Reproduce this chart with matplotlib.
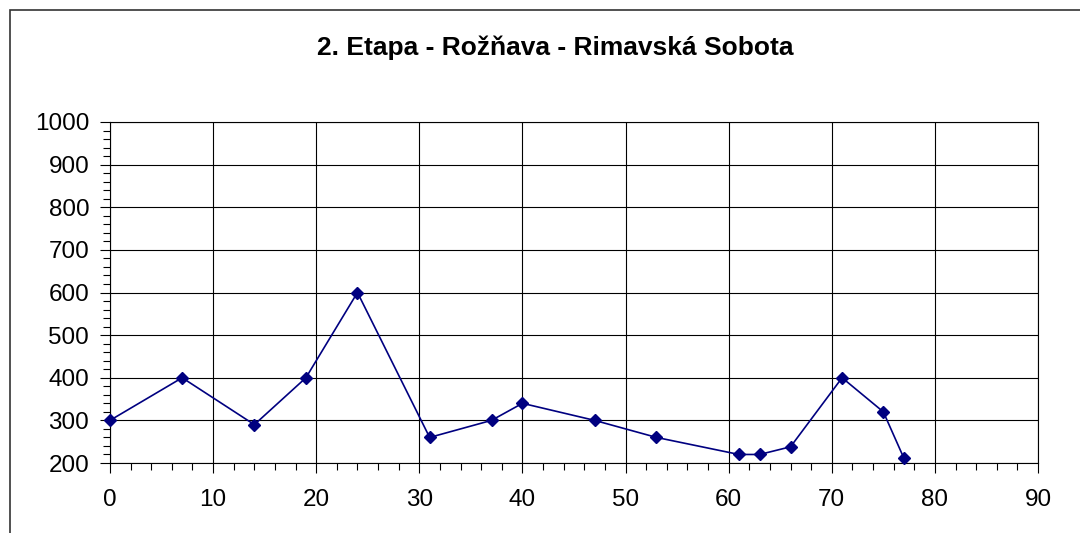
import matplotlib
matplotlib.use("Agg")
import matplotlib.pyplot as plt
from matplotlib.patches import Rectangle
from matplotlib.ticker import MultipleLocator

# trasa - km a nadmorska vyska
km = [0, 7, 14, 19, 24, 31, 37, 40, 47, 53, 61, 63, 66, 71, 75, 77]
vyska = [300, 400, 290, 400, 600, 260, 300, 340, 300, 260, 220, 220, 238, 400, 320, 211]
title = "2. Etapa - Rožňava - Rimavská Sobota"

plt.rcParams['font.family'] = ['Liberation Sans', 'DejaVu Sans']

fig = plt.figure(figsize=(10.8, 5.33), dpi=100)
ax = fig.add_axes([110 / 1080, 1 - 463 / 533, (1038 - 110) / 1080, (463 - 122) / 533])

# ramcek okolo grafu
fig.patches.append(Rectangle((10 / 1080, -0.1), 1.2, 1 - 10 / 533 + 0.1,
                             transform=fig.transFigure, fill=False,
                             edgecolor='#333333', linewidth=1.2))

ax.plot(km, vyska, color='#000080', linewidth=1.2, marker='D',
        markersize=6.5, markerfacecolor='#000080', markeredgecolor='#000080',
        clip_on=False, zorder=3)

ax.set_xlim(0, 90)
ax.set_ylim(200, 1000)
ax.xaxis.set_major_locator(MultipleLocator(10))
ax.xaxis.set_minor_locator(MultipleLocator(2))
ax.yaxis.set_major_locator(MultipleLocator(100))
ax.yaxis.set_minor_locator(MultipleLocator(20))

ax.grid(True, which='major', color='black', linewidth=0.8)
ax.set_axisbelow(True)
for s in ax.spines.values():
    s.set_color('black')
    s.set_linewidth(0.8)

ax.tick_params(which='major', direction='out', length=7, width=0.8,
               labelsize=17.5, pad=8)
ax.tick_params(which='minor', direction='out', length=5, width=0.8)
ax.tick_params(axis='x', pad=12)

fig.text(555 / 1080, 1 - 48 / 533, title, ha='center', va='center',
         fontsize=19, fontweight='bold')

fig.savefig("out.png", dpi=100)
